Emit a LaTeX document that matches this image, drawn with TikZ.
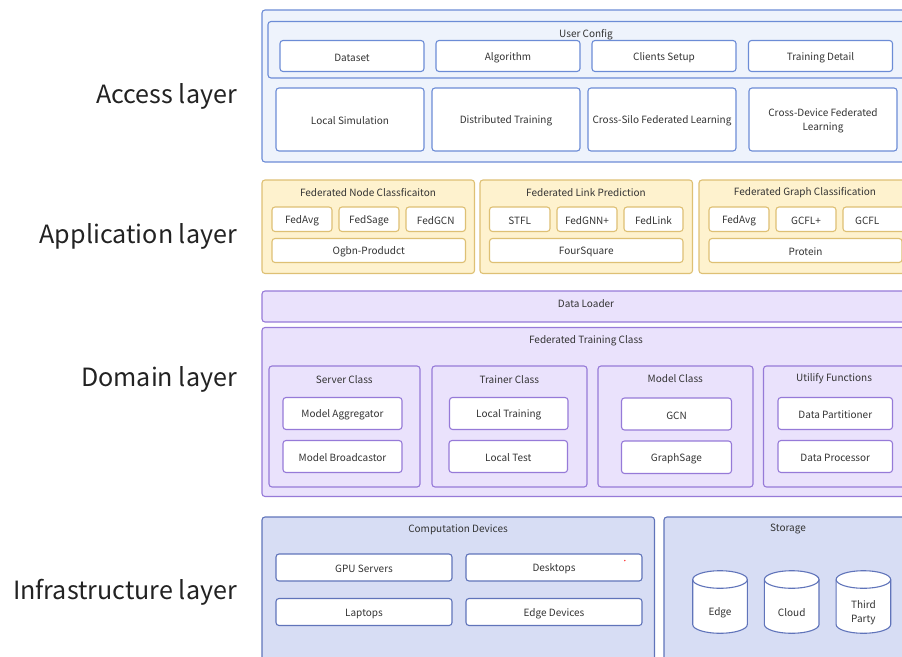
\documentclass[tikz,border=0pt]{standalone}
\usepackage{fontspec}
\setmainfont{Noto Sans CJK SC}
\definecolor{accF}{RGB}{238,243,252}
\definecolor{accD}{RGB}{108,140,214}
\definecolor{appF}{RGB}{254,242,206}
\definecolor{appD}{RGB}{222,192,116}
\definecolor{domF}{RGB}{234,226,252}
\definecolor{domD}{RGB}{150,122,216}
\definecolor{infF}{RGB}{215,221,244}
\definecolor{infD}{RGB}{96,116,186}
\definecolor{txtC}{RGB}{51,51,51}
\definecolor{lblC}{RGB}{34,34,34}
\tikzset{
  base/.style={rounded corners=3pt, line width=1.1pt, outer sep=0pt, inner sep=0pt},
  accC/.style={base, draw=accD, fill=accF},
  accB/.style={base, draw=accD, fill=white},
  appC/.style={base, draw=appD, fill=appF},
  appB/.style={base, draw=appD, fill=white},
  domC/.style={base, draw=domD, fill=domF},
  domB/.style={base, draw=domD, fill=white},
  infC/.style={base, draw=infD, fill=infF},
  infB/.style={base, draw=infD, fill=white},
  ttl/.style={text=txtC, font=\fontsize{10}{14}\selectfont, inner sep=0pt, align=center, yshift=-1.5pt},
  layer/.style={text=lblC, font=\fontsize{25.1}{30}\selectfont, inner sep=0pt, anchor=base east},
  cylst/.style={draw=infD, fill=white, line width=1.1pt},
}
\newcommand\bx[7]{\node[#2, anchor=north west, minimum width={#5-#3}, minimum height={#6-#4}] (#1) at (#3,-#4) {};
  \node[ttl] (#1t) at (#1.center) {#7};}
\newcommand\cyl[5]{% name, cx, ytop, ybot, text
  \filldraw[cylst] ({#2-27.3},{-#3-8.8}) -- ({#2-27.3},{-#4+8.8})
    arc[start angle=180, end angle=360, x radius=27.3pt, y radius=8.8pt]
    -- ({#2+27.3},{-#3-8.8})
    arc[start angle=0, end angle=180, x radius=27.3pt, y radius=8.8pt] -- cycle;
  \draw[cylst, fill=none] ({#2-27.3},{-#3-8.8}) arc[start angle=180, end angle=360, x radius=27.3pt, y radius=8.8pt];
  \node[ttl] (#1) at (#2,{-(#3+#4)/2-9.3}) {#5};
}
\begin{document}
\begin{tikzpicture}[x=1pt,y=1pt]
\useasboundingbox (0,0) rectangle (902,-656);
\clip (0,0) rectangle (902,-656);
% layer labels
\node[layer] (la) at (237,-103.3) {Access layer};
\node[layer] (lb) at (237,-243.3) {Application layer};
\node[layer] (lc) at (237,-386.7) {Domain layer};
\node[layer] (ld) at (237,-599.3) {Infrastructure layer};
% Access
\bx{acc}{accC}{262}{10}{912}{162}{}
\bx{uc}{accC}{268}{21.5}{905}{78}{}
\node[ttl] (ucT) at (586,-33) {User Config};
\bx{ds}{accB}{280}{40.5}{424}{71.5}{Dataset}
\bx{alg}{accB}{436}{40.5}{580}{71.5}{Algorithm}
\bx{cs}{accB}{592}{40.5}{736}{71.5}{Clients Setup}
\bx{td}{accB}{748.5}{40.5}{892.5}{71.5}{Training Detail}
\bx{ls}{accB}{276}{88}{424}{151}{Local Simulation}
\bx{dt}{accB}{432}{88}{580}{151}{Distributed Training}
\bx{csf}{accB}{588}{88}{736}{151}{Cross-Silo Federated Learning}
\bx{cdf}{accB}{749}{88}{897}{151}{Cross-Device Federated\\Learning}
% Application
\bx{nc}{appC}{262}{180}{474.5}{273.5}{}
\node[ttl] (ncT) at (368,-191) {Federated Node Classficaiton};
\bx{lp}{appC}{480}{180}{692.5}{273.5}{}
\node[ttl] (lpT) at (586,-191) {Federated Link Prediction};
\bx{gc}{appC}{699}{180}{911}{273.5}{}
\node[ttl] (gcT) at (805,-191) {Federated Graph Classification};
\bx{fa1}{appB}{272}{207}{332}{231.5}{FedAvg}
\bx{fs}{appB}{339}{207}{399}{231.5}{FedSage}
\bx{fg}{appB}{406}{207}{465.5}{231.5}{FedGCN}
\bx{ogbn}{appB}{272}{238.5}{465.5}{262.5}{Ogbn-Produdct}
\bx{stfl}{appB}{489.5}{207}{550}{231.5}{STFL}
\bx{fgnn}{appB}{557}{207}{617}{231.5}{FedGNN+}
\bx{fl}{appB}{624}{207}{683}{231.5}{FedLink}
\bx{fsq}{appB}{489.5}{238.5}{683}{262.5}{FourSquare}
\bx{fa2}{appB}{709}{207}{769}{231.5}{FedAvg}
\bx{gp}{appB}{776}{207}{836}{231.5}{GCFL+}
\bx{gcfl}{appB}{843}{207}{906}{231.5}{}
\node[ttl] (gcflT) at (867.3,-219) {GCFL};
\bx{prot}{appB}{709}{238.5}{902}{262.5}{Protein}
% Domain
\bx{dl}{domC}{262}{291}{912}{322}{}
\node[ttl] (dlT) at (586,-302.5) {Data Loader};
\bx{ftc}{domC}{262}{327.5}{912}{496.5}{}
\node[ttl] (ftcT) at (586,-339) {Federated Training Class};
\bx{sc}{domC}{269}{366}{420}{487}{}
\node[ttl] (scT) at (344.3,-378) {Server Class};
\bx{ma}{domB}{283}{397.5}{402}{429.5}{Model Aggregator}
\bx{mb}{domB}{283}{440.5}{402}{472.5}{Model Broadcastor}
\bx{tc}{domC}{432}{366}{587}{487}{}
\node[ttl] (tcT) at (509.3,-378) {Trainer Class};
\bx{lt}{domB}{449.5}{397.5}{568}{429.5}{Local Training}
\bx{lte}{domB}{449}{440.5}{567.5}{472.5}{Local Test}
\bx{mc}{domC}{598}{366}{753}{487}{}
\node[ttl] (mcT) at (675.3,-377.5) {Model Class};
\bx{gcn}{domB}{621.5}{398}{731.5}{430}{GCN}
\bx{gs}{domB}{621.5}{441}{731.5}{473.5}{GraphSage}
\bx{uf}{domC}{763.5}{366}{906}{487}{}
\node[ttl] (ufT) at (834,-377.5) {Utilify Functions};
\bx{dp}{domB}{778}{397.5}{892.5}{429.5}{Data Partitioner}
\bx{dpr}{domB}{778}{440.5}{892.5}{472.5}{Data Processor}
% Infrastructure
\bx{cd}{infC}{262}{517}{654.5}{670}{}
\node[ttl] (cdT) at (458,-528) {Computation Devices};
\bx{gpu}{infB}{276}{554}{452}{581}{GPU Servers}
\bx{desk}{infB}{466}{554}{642}{581}{Desktops}
\bx{lap}{infB}{276}{598.5}{452}{625.5}{Laptops}
\bx{edv}{infB}{466}{598.5}{642}{625.5}{Edge Devices}
\fill[red!80] (624.8,-560.5) circle (0.8pt);
\bx{st}{infC}{664}{517}{912}{670}{}
\node[ttl] (stT) at (788,-528) {Storage};
\cyl{cyE}{720}{570.7}{633.3}{Edge}
\cyl{cyC}{791.7}{570.7}{633.3}{Cloud}
\cyl{cyT}{863.4}{570.7}{633.3}{Third\\Party}
\end{tikzpicture}
\end{document}
